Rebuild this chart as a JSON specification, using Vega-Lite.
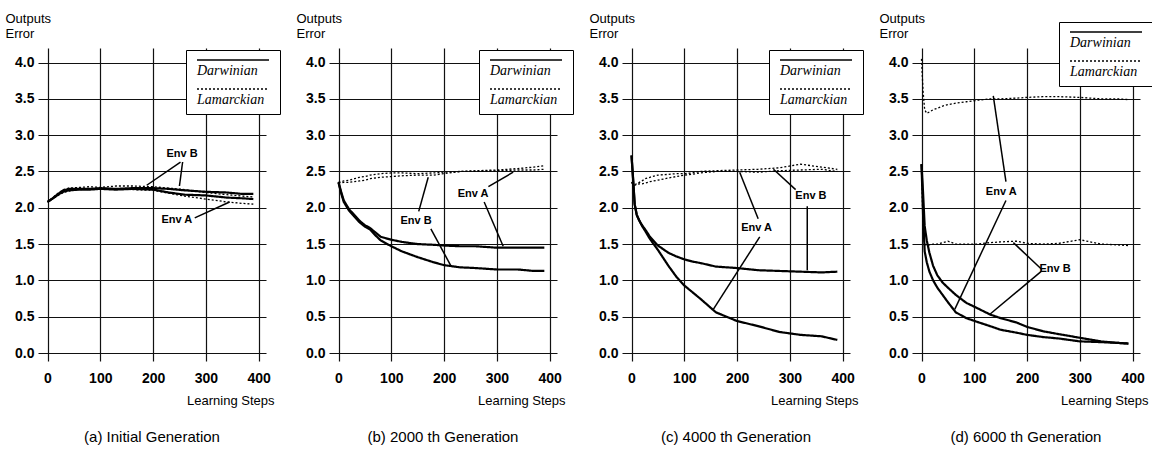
{
  "$schema": "https://vega.github.io/schema/vega-lite/v6.json",
  "background": "white",
  "padding": {"left": 5, "top": 12, "right": 5, "bottom": 0},
  "autosize": {"type": "pad"},
  "spacing": 15,
  "resolve": {"legend": {"strokeDash": "independent"}},
  "config": {
    "view": {"stroke": null},
    "axis": {
      "grid": true, "gridColor": "#111", "gridWidth": 1.2, "domain": false, "ticks": false,
      "labelFont": "Liberation Sans Narrow, Liberation Sans", "labelFontSize": 14, "labelFontWeight": "bold", "labelColor": "#000",
      "titleFont": "Liberation Sans Narrow, Liberation Sans", "titleFontSize": 13, "titleFontWeight": "normal", "titleColor": "#000"
    },
    "title": {"font": "Liberation Sans", "fontSize": 15, "fontWeight": "normal", "color": "#000", "orient": "bottom", "offset": 23},
    "legend": {
      "orient": "none", "title": null, "symbolType": "M-12,-1.33H12", "symbolSize": 36, "symbolOffset": 33, "symbolStrokeWidth": 1.6,
      "symbolStrokeColor": "black", "labelOffset": -43, "labelBaseline": "top", "labelFont": "Liberation Serif",
      "labelFontStyle": "italic", "labelFontSize": 14, "labelColor": "#000", "strokeColor": "black", "fillColor": "white",
      "padding": 7, "rowPadding": 7
    }
  },
  "datasets": {
    "curves": [
      {"panel":"a","method":"Darwinian","step":0,"envA":2.08,"envB":2.08},
      {"panel":"a","method":"Darwinian","step":10,"envA":2.13,"envB":2.13},
      {"panel":"a","method":"Darwinian","step":20,"envA":2.18,"envB":2.19},
      {"panel":"a","method":"Darwinian","step":30,"envA":2.22,"envB":2.24},
      {"panel":"a","method":"Darwinian","step":40,"envA":2.24,"envB":2.26},
      {"panel":"a","method":"Darwinian","step":60,"envA":2.25,"envB":2.26},
      {"panel":"a","method":"Darwinian","step":80,"envA":2.25,"envB":2.26},
      {"panel":"a","method":"Darwinian","step":100,"envA":2.26,"envB":2.27},
      {"panel":"a","method":"Darwinian","step":130,"envA":2.25,"envB":2.26},
      {"panel":"a","method":"Darwinian","step":160,"envA":2.26,"envB":2.27},
      {"panel":"a","method":"Darwinian","step":200,"envA":2.25,"envB":2.27},
      {"panel":"a","method":"Darwinian","step":230,"envA":2.21,"envB":2.26},
      {"panel":"a","method":"Darwinian","step":260,"envA":2.18,"envB":2.24},
      {"panel":"a","method":"Darwinian","step":300,"envA":2.17,"envB":2.22},
      {"panel":"a","method":"Darwinian","step":340,"envA":2.14,"envB":2.21},
      {"panel":"a","method":"Darwinian","step":370,"envA":2.13,"envB":2.19},
      {"panel":"a","method":"Darwinian","step":390,"envA":2.12,"envB":2.19},
      {"panel":"a","method":"Lamarckian","step":0,"envA":2.08,"envB":2.08},
      {"panel":"a","method":"Lamarckian","step":10,"envA":2.12,"envB":2.14},
      {"panel":"a","method":"Lamarckian","step":20,"envA":2.17,"envB":2.2},
      {"panel":"a","method":"Lamarckian","step":30,"envA":2.21,"envB":2.25},
      {"panel":"a","method":"Lamarckian","step":40,"envA":2.23,"envB":2.27},
      {"panel":"a","method":"Lamarckian","step":60,"envA":2.25,"envB":2.28},
      {"panel":"a","method":"Lamarckian","step":80,"envA":2.26,"envB":2.29},
      {"panel":"a","method":"Lamarckian","step":100,"envA":2.27,"envB":2.28},
      {"panel":"a","method":"Lamarckian","step":130,"envA":2.26,"envB":2.3},
      {"panel":"a","method":"Lamarckian","step":160,"envA":2.25,"envB":2.3},
      {"panel":"a","method":"Lamarckian","step":200,"envA":2.24,"envB":2.29},
      {"panel":"a","method":"Lamarckian","step":230,"envA":2.2,"envB":2.27},
      {"panel":"a","method":"Lamarckian","step":260,"envA":2.16,"envB":2.25},
      {"panel":"a","method":"Lamarckian","step":300,"envA":2.12,"envB":2.21},
      {"panel":"a","method":"Lamarckian","step":340,"envA":2.08,"envB":2.18},
      {"panel":"a","method":"Lamarckian","step":370,"envA":2.06,"envB":2.16},
      {"panel":"a","method":"Lamarckian","step":390,"envA":2.05,"envB":2.15},

      {"panel":"b","method":"Darwinian","step":0,"envA":2.35,"envB":2.35},
      {"panel":"b","method":"Darwinian","step":5,"envA":2.22,"envB":2.2},
      {"panel":"b","method":"Darwinian","step":10,"envA":2.1,"envB":2.08},
      {"panel":"b","method":"Darwinian","step":20,"envA":1.98,"envB":1.96},
      {"panel":"b","method":"Darwinian","step":30,"envA":1.9,"envB":1.88},
      {"panel":"b","method":"Darwinian","step":40,"envA":1.82,"envB":1.8},
      {"panel":"b","method":"Darwinian","step":50,"envA":1.76,"envB":1.74},
      {"panel":"b","method":"Darwinian","step":60,"envA":1.72,"envB":1.7},
      {"panel":"b","method":"Darwinian","step":70,"envA":1.66,"envB":1.62},
      {"panel":"b","method":"Darwinian","step":80,"envA":1.6,"envB":1.55},
      {"panel":"b","method":"Darwinian","step":100,"envA":1.56,"envB":1.47},
      {"panel":"b","method":"Darwinian","step":120,"envA":1.53,"envB":1.4},
      {"panel":"b","method":"Darwinian","step":150,"envA":1.5,"envB":1.32},
      {"panel":"b","method":"Darwinian","step":180,"envA":1.49,"envB":1.25},
      {"panel":"b","method":"Darwinian","step":200,"envA":1.48,"envB":1.21},
      {"panel":"b","method":"Darwinian","step":230,"envA":1.47,"envB":1.18},
      {"panel":"b","method":"Darwinian","step":260,"envA":1.47,"envB":1.17},
      {"panel":"b","method":"Darwinian","step":300,"envA":1.45,"envB":1.15},
      {"panel":"b","method":"Darwinian","step":340,"envA":1.45,"envB":1.15},
      {"panel":"b","method":"Darwinian","step":370,"envA":1.45,"envB":1.13},
      {"panel":"b","method":"Darwinian","step":390,"envA":1.45,"envB":1.13},
      {"panel":"b","method":"Lamarckian","step":0,"envA":2.35,"envB":2.35},
      {"panel":"b","method":"Lamarckian","step":5,"envA":2.36,"envB":2.34},
      {"panel":"b","method":"Lamarckian","step":10,"envA":2.37,"envB":2.35},
      {"panel":"b","method":"Lamarckian","step":20,"envA":2.38,"envB":2.35},
      {"panel":"b","method":"Lamarckian","step":30,"envA":2.4,"envB":2.36},
      {"panel":"b","method":"Lamarckian","step":40,"envA":2.42,"envB":2.37},
      {"panel":"b","method":"Lamarckian","step":50,"envA":2.43,"envB":2.38},
      {"panel":"b","method":"Lamarckian","step":60,"envA":2.45,"envB":2.4},
      {"panel":"b","method":"Lamarckian","step":70,"envA":2.46,"envB":2.41},
      {"panel":"b","method":"Lamarckian","step":80,"envA":2.47,"envB":2.42},
      {"panel":"b","method":"Lamarckian","step":100,"envA":2.48,"envB":2.43},
      {"panel":"b","method":"Lamarckian","step":120,"envA":2.48,"envB":2.44},
      {"panel":"b","method":"Lamarckian","step":150,"envA":2.47,"envB":2.45},
      {"panel":"b","method":"Lamarckian","step":180,"envA":2.48,"envB":2.45},
      {"panel":"b","method":"Lamarckian","step":200,"envA":2.49,"envB":2.47},
      {"panel":"b","method":"Lamarckian","step":230,"envA":2.5,"envB":2.5},
      {"panel":"b","method":"Lamarckian","step":260,"envA":2.51,"envB":2.5},
      {"panel":"b","method":"Lamarckian","step":300,"envA":2.52,"envB":2.51},
      {"panel":"b","method":"Lamarckian","step":340,"envA":2.54,"envB":2.52},
      {"panel":"b","method":"Lamarckian","step":370,"envA":2.56,"envB":2.52},
      {"panel":"b","method":"Lamarckian","step":390,"envA":2.58,"envB":2.53},

      {"panel":"c","method":"Darwinian","step":0,"envA":2.72,"envB":2.72},
      {"panel":"c","method":"Darwinian","step":3,"envA":2.4,"envB":2.4},
      {"panel":"c","method":"Darwinian","step":6,"envA":2.05,"envB":2.05},
      {"panel":"c","method":"Darwinian","step":10,"envA":1.9,"envB":1.9},
      {"panel":"c","method":"Darwinian","step":15,"envA":1.82,"envB":1.82},
      {"panel":"c","method":"Darwinian","step":20,"envA":1.75,"envB":1.76},
      {"panel":"c","method":"Darwinian","step":26,"envA":1.68,"envB":1.7},
      {"panel":"c","method":"Darwinian","step":35,"envA":1.57,"envB":1.6},
      {"panel":"c","method":"Darwinian","step":50,"envA":1.42,"envB":1.48},
      {"panel":"c","method":"Darwinian","step":70,"envA":1.2,"envB":1.38},
      {"panel":"c","method":"Darwinian","step":85,"envA":1.05,"envB":1.33},
      {"panel":"c","method":"Darwinian","step":100,"envA":0.93,"envB":1.29},
      {"panel":"c","method":"Darwinian","step":115,"envA":0.84,"envB":1.26},
      {"panel":"c","method":"Darwinian","step":130,"envA":0.75,"envB":1.24},
      {"panel":"c","method":"Darwinian","step":160,"envA":0.56,"envB":1.19},
      {"panel":"c","method":"Darwinian","step":200,"envA":0.44,"envB":1.17},
      {"panel":"c","method":"Darwinian","step":240,"envA":0.37,"envB":1.14},
      {"panel":"c","method":"Darwinian","step":280,"envA":0.29,"envB":1.13},
      {"panel":"c","method":"Darwinian","step":320,"envA":0.25,"envB":1.12},
      {"panel":"c","method":"Darwinian","step":360,"envA":0.23,"envB":1.11},
      {"panel":"c","method":"Darwinian","step":390,"envA":0.18,"envB":1.12},
      {"panel":"c","method":"Lamarckian","step":0,"envA":2.35,"envB":2.35},
      {"panel":"c","method":"Lamarckian","step":3,"envA":2.33,"envB":2.32},
      {"panel":"c","method":"Lamarckian","step":6,"envA":2.32,"envB":2.31},
      {"panel":"c","method":"Lamarckian","step":10,"envA":2.33,"envB":2.32},
      {"panel":"c","method":"Lamarckian","step":15,"envA":2.35,"envB":2.33},
      {"panel":"c","method":"Lamarckian","step":20,"envA":2.37,"envB":2.33},
      {"panel":"c","method":"Lamarckian","step":26,"envA":2.4,"envB":2.34},
      {"panel":"c","method":"Lamarckian","step":35,"envA":2.42,"envB":2.36},
      {"panel":"c","method":"Lamarckian","step":50,"envA":2.45,"envB":2.38},
      {"panel":"c","method":"Lamarckian","step":70,"envA":2.46,"envB":2.41},
      {"panel":"c","method":"Lamarckian","step":85,"envA":2.47,"envB":2.43},
      {"panel":"c","method":"Lamarckian","step":100,"envA":2.47,"envB":2.45},
      {"panel":"c","method":"Lamarckian","step":115,"envA":2.48,"envB":2.46},
      {"panel":"c","method":"Lamarckian","step":130,"envA":2.5,"envB":2.48},
      {"panel":"c","method":"Lamarckian","step":160,"envA":2.51,"envB":2.5},
      {"panel":"c","method":"Lamarckian","step":200,"envA":2.52,"envB":2.5},
      {"panel":"c","method":"Lamarckian","step":240,"envA":2.53,"envB":2.49},
      {"panel":"c","method":"Lamarckian","step":280,"envA":2.55,"envB":2.51},
      {"panel":"c","method":"Lamarckian","step":320,"envA":2.6,"envB":2.52},
      {"panel":"c","method":"Lamarckian","step":360,"envA":2.56,"envB":2.53},
      {"panel":"c","method":"Lamarckian","step":390,"envA":2.53,"envB":2.5},

      {"panel":"d","method":"Darwinian","step":0,"envA":2.6,"envB":2.6},
      {"panel":"d","method":"Darwinian","step":3,"envA":1.9,"envB":2.2},
      {"panel":"d","method":"Darwinian","step":6,"envA":1.4,"envB":1.75},
      {"panel":"d","method":"Darwinian","step":10,"envA":1.25,"envB":1.55},
      {"panel":"d","method":"Darwinian","step":15,"envA":1.12,"envB":1.38},
      {"panel":"d","method":"Darwinian","step":22,"envA":1.0,"envB":1.2},
      {"panel":"d","method":"Darwinian","step":30,"envA":0.9,"envB":1.07},
      {"panel":"d","method":"Darwinian","step":40,"envA":0.8,"envB":0.97},
      {"panel":"d","method":"Darwinian","step":50,"envA":0.7,"envB":0.9},
      {"panel":"d","method":"Darwinian","step":65,"envA":0.56,"envB":0.8},
      {"panel":"d","method":"Darwinian","step":85,"envA":0.48,"envB":0.69},
      {"panel":"d","method":"Darwinian","step":105,"envA":0.43,"envB":0.62},
      {"panel":"d","method":"Darwinian","step":130,"envA":0.37,"envB":0.53},
      {"panel":"d","method":"Darwinian","step":150,"envA":0.32,"envB":0.48},
      {"panel":"d","method":"Darwinian","step":180,"envA":0.28,"envB":0.42},
      {"panel":"d","method":"Darwinian","step":200,"envA":0.25,"envB":0.36},
      {"panel":"d","method":"Darwinian","step":230,"envA":0.22,"envB":0.3},
      {"panel":"d","method":"Darwinian","step":260,"envA":0.2,"envB":0.26},
      {"panel":"d","method":"Darwinian","step":300,"envA":0.16,"envB":0.21},
      {"panel":"d","method":"Darwinian","step":340,"envA":0.15,"envB":0.16},
      {"panel":"d","method":"Darwinian","step":370,"envA":0.14,"envB":0.14},
      {"panel":"d","method":"Darwinian","step":392,"envA":0.13,"envB":0.13},
      {"panel":"d","method":"Lamarckian","step":0,"envA":4.05,"envB":2.6},
      {"panel":"d","method":"Lamarckian","step":3,"envA":3.6,"envB":1.7},
      {"panel":"d","method":"Lamarckian","step":6,"envA":3.35,"envB":1.5},
      {"panel":"d","method":"Lamarckian","step":10,"envA":3.3,"envB":1.48},
      {"panel":"d","method":"Lamarckian","step":15,"envA":3.32,"envB":1.49},
      {"panel":"d","method":"Lamarckian","step":22,"envA":3.35,"envB":1.5},
      {"panel":"d","method":"Lamarckian","step":30,"envA":3.37,"envB":1.5},
      {"panel":"d","method":"Lamarckian","step":40,"envA":3.4,"envB":1.52},
      {"panel":"d","method":"Lamarckian","step":50,"envA":3.42,"envB":1.54},
      {"panel":"d","method":"Lamarckian","step":65,"envA":3.44,"envB":1.5},
      {"panel":"d","method":"Lamarckian","step":85,"envA":3.46,"envB":1.5},
      {"panel":"d","method":"Lamarckian","step":105,"envA":3.48,"envB":1.5},
      {"panel":"d","method":"Lamarckian","step":130,"envA":3.5,"envB":1.52},
      {"panel":"d","method":"Lamarckian","step":150,"envA":3.5,"envB":1.53},
      {"panel":"d","method":"Lamarckian","step":180,"envA":3.51,"envB":1.54},
      {"panel":"d","method":"Lamarckian","step":200,"envA":3.52,"envB":1.51},
      {"panel":"d","method":"Lamarckian","step":230,"envA":3.53,"envB":1.5},
      {"panel":"d","method":"Lamarckian","step":260,"envA":3.53,"envB":1.51},
      {"panel":"d","method":"Lamarckian","step":300,"envA":3.52,"envB":1.56},
      {"panel":"d","method":"Lamarckian","step":340,"envA":3.5,"envB":1.5},
      {"panel":"d","method":"Lamarckian","step":370,"envA":3.5,"envB":1.49},
      {"panel":"d","method":"Lamarckian","step":392,"envA":3.49,"envB":1.48}
    ],
    "labels": [
      {"panel":"a","label":"Env B","step":255,"error":2.74},
      {"panel":"a","label":"Env A","step":245,"error":1.83},
      {"panel":"b","label":"Env B","step":147,"error":1.82},
      {"panel":"b","label":"Env A","step":255,"error":2.19},
      {"panel":"c","label":"Env A","step":237,"error":1.72},
      {"panel":"c","label":"Env B","step":340,"error":2.16},
      {"panel":"d","label":"Env A","step":151,"error":2.22},
      {"panel":"d","label":"Env B","step":253,"error":1.15}
    ],
    "arrows": [
      {"panel":"a","step":252,"error":2.63,"step2":188,"error2":2.31},
      {"panel":"a","step":256,"error":2.63,"step2":250,"error2":2.3},
      {"panel":"a","step":279,"error":1.86,"step2":345,"error2":2.08},
      {"panel":"b","step":152,"error":1.95,"step2":170,"error2":2.42},
      {"panel":"b","step":175,"error":1.71,"step2":213,"error2":1.2},
      {"panel":"b","step":284,"error":2.29,"step2":331,"error2":2.49},
      {"panel":"b","step":276,"error":2.08,"step2":312,"error2":1.47},
      {"panel":"c","step":240,"error":1.85,"step2":205,"error2":2.49},
      {"panel":"c","step":243,"error":1.6,"step2":155,"error2":0.6},
      {"panel":"c","step":311,"error":2.25,"step2":269,"error2":2.53},
      {"panel":"c","step":333,"error":2.02,"step2":333,"error2":1.14},
      {"panel":"d","step":160,"error":2.36,"step2":136,"error2":3.54},
      {"panel":"d","step":160,"error":2.1,"step2":63,"error2":0.6},
      {"panel":"d","step":228,"error":1.15,"step2":174,"error2":1.52},
      {"panel":"d","step":228,"error":1.13,"step2":129,"error2":0.53}
    ]
  },
  "hconcat": [
    {
      "width": 228, "height": 313,
      "title": {"text": "(a) Initial Generation"},
      "encoding": {
        "x": {"field": "step", "type": "quantitative", "scale": {"domain": [-18, 414], "nice": false, "zero": false},
              "axis": {"values": [0, 100, 200, 300, 400], "labelPadding": 10, "title": "Learning Steps", "titleX": 236, "titleY": 33, "titleAlign": "right", "titleBaseline": "top", "titleAnchor": null}},
        "y": {"field": "error", "type": "quantitative", "scale": {"domain": [-0.11, 4.2], "nice": false, "zero": false},
              "axis": {"values": [0, 0.5, 1, 1.5, 2, 2.5, 3, 3.5, 4], "format": ".1f", "labelPadding": 4, "labelOverlap": false, "title": ["Outputs", "Error"], "titleAngle": 0, "titleAlign": "left", "titleBaseline": "top", "titleX": -33, "titleY": -36, "titleLineHeight": 15, "titleAnchor": null}}
      },
      "layer": [
        {
          "data": {"name": "curves"},
          "transform": [{"filter": "datum.panel === 'a'"}, {"fold": ["envA", "envB"], "as": ["env", "error"]}],
          "mark": {"type": "line", "color": "black"},
          "encoding": {
            "strokeDash": {"field": "method", "type": "nominal", "scale": {"domain": ["Darwinian", "Lamarckian"], "range": [[1, 0], [2, 2]]},
                           "legend": {"legendX": 148, "legendY": 2}},
            "strokeWidth": {"field": "method", "type": "nominal", "scale": {"domain": ["Darwinian", "Lamarckian"], "range": [2.2, 1.3]}, "legend": null},
            "detail": {"field": "env"},
            "order": {"field": "step", "type": "quantitative"}
          }
        },
        {
          "data": {"name": "arrows"},
          "transform": [{"filter": "datum.panel === 'a'"}],
          "mark": {"type": "rule", "color": "black", "strokeWidth": 1.5},
          "encoding": {"x2": {"field": "step2"}, "y2": {"field": "error2"}}
        },
        {
          "data": {"name": "labels"},
          "transform": [{"filter": "datum.panel === 'a'"}],
          "mark": {"type": "text", "font": "Liberation Sans Narrow, Liberation Sans", "fontSize": 11, "fontWeight": "bold", "color": "black"},
          "encoding": {"text": {"field": "label"}}
        }
      ]
    },
    {
      "width": 228, "height": 313,
      "title": {"text": "(b) 2000 th Generation"},
      "encoding": {
        "x": {"field": "step", "type": "quantitative", "scale": {"domain": [-18, 414], "nice": false, "zero": false},
              "axis": {"values": [0, 100, 200, 300, 400], "labelPadding": 10, "title": "Learning Steps", "titleX": 236, "titleY": 33, "titleAlign": "right", "titleBaseline": "top", "titleAnchor": null}},
        "y": {"field": "error", "type": "quantitative", "scale": {"domain": [-0.11, 4.2], "nice": false, "zero": false},
              "axis": {"values": [0, 0.5, 1, 1.5, 2, 2.5, 3, 3.5, 4], "format": ".1f", "labelPadding": 4, "labelOverlap": false, "title": ["Outputs", "Error"], "titleAngle": 0, "titleAlign": "left", "titleBaseline": "top", "titleX": -33, "titleY": -36, "titleLineHeight": 15, "titleAnchor": null}}
      },
      "layer": [
        {
          "data": {"name": "curves"},
          "transform": [{"filter": "datum.panel === 'b'"}, {"fold": ["envA", "envB"], "as": ["env", "error"]}],
          "mark": {"type": "line", "color": "black"},
          "encoding": {
            "strokeDash": {"field": "method", "type": "nominal", "scale": {"domain": ["Darwinian", "Lamarckian"], "range": [[1, 0], [2, 2]]},
                           "legend": {"legendX": 150, "legendY": 2}},
            "strokeWidth": {"field": "method", "type": "nominal", "scale": {"domain": ["Darwinian", "Lamarckian"], "range": [2.2, 1.3]}, "legend": null},
            "detail": {"field": "env"},
            "order": {"field": "step", "type": "quantitative"}
          }
        },
        {
          "data": {"name": "arrows"},
          "transform": [{"filter": "datum.panel === 'b'"}],
          "mark": {"type": "rule", "color": "black", "strokeWidth": 1.5},
          "encoding": {"x2": {"field": "step2"}, "y2": {"field": "error2"}}
        },
        {
          "data": {"name": "labels"},
          "transform": [{"filter": "datum.panel === 'b'"}],
          "mark": {"type": "text", "font": "Liberation Sans Narrow, Liberation Sans", "fontSize": 11, "fontWeight": "bold", "color": "black"},
          "encoding": {"text": {"field": "label"}}
        }
      ]
    },
    {
      "width": 228, "height": 313,
      "title": {"text": "(c) 4000 th Generation"},
      "encoding": {
        "x": {"field": "step", "type": "quantitative", "scale": {"domain": [-18, 414], "nice": false, "zero": false},
              "axis": {"values": [0, 100, 200, 300, 400], "labelPadding": 10, "title": "Learning Steps", "titleX": 236, "titleY": 33, "titleAlign": "right", "titleBaseline": "top", "titleAnchor": null}},
        "y": {"field": "error", "type": "quantitative", "scale": {"domain": [-0.11, 4.2], "nice": false, "zero": false},
              "axis": {"values": [0, 0.5, 1, 1.5, 2, 2.5, 3, 3.5, 4], "format": ".1f", "labelPadding": 4, "labelOverlap": false, "title": ["Outputs", "Error"], "titleAngle": 0, "titleAlign": "left", "titleBaseline": "top", "titleX": -33, "titleY": -36, "titleLineHeight": 15, "titleAnchor": null}}
      },
      "layer": [
        {
          "data": {"name": "curves"},
          "transform": [{"filter": "datum.panel === 'c'"}, {"fold": ["envA", "envB"], "as": ["env", "error"]}],
          "mark": {"type": "line", "color": "black"},
          "encoding": {
            "strokeDash": {"field": "method", "type": "nominal", "scale": {"domain": ["Darwinian", "Lamarckian"], "range": [[1, 0], [2, 2]]},
                           "legend": {"legendX": 147, "legendY": 2}},
            "strokeWidth": {"field": "method", "type": "nominal", "scale": {"domain": ["Darwinian", "Lamarckian"], "range": [2.2, 1.3]}, "legend": null},
            "detail": {"field": "env"},
            "order": {"field": "step", "type": "quantitative"}
          }
        },
        {
          "data": {"name": "arrows"},
          "transform": [{"filter": "datum.panel === 'c'"}],
          "mark": {"type": "rule", "color": "black", "strokeWidth": 1.5},
          "encoding": {"x2": {"field": "step2"}, "y2": {"field": "error2"}}
        },
        {
          "data": {"name": "labels"},
          "transform": [{"filter": "datum.panel === 'c'"}],
          "mark": {"type": "text", "font": "Liberation Sans Narrow, Liberation Sans", "fontSize": 11, "fontWeight": "bold", "color": "black"},
          "encoding": {"text": {"field": "label"}}
        }
      ]
    },
    {
      "width": 228, "height": 313,
      "title": {"text": "(d) 6000 th Generation"},
      "encoding": {
        "x": {"field": "step", "type": "quantitative", "scale": {"domain": [-18, 414], "nice": false, "zero": false},
              "axis": {"values": [0, 100, 200, 300, 400], "labelPadding": 10, "title": "Learning Steps", "titleX": 236, "titleY": 33, "titleAlign": "right", "titleBaseline": "top", "titleAnchor": null}},
        "y": {"field": "error", "type": "quantitative", "scale": {"domain": [-0.11, 4.2], "nice": false, "zero": false},
              "axis": {"values": [0, 0.5, 1, 1.5, 2, 2.5, 3, 3.5, 4], "format": ".1f", "labelPadding": 4, "labelOverlap": false, "title": ["Outputs", "Error"], "titleAngle": 0, "titleAlign": "left", "titleBaseline": "top", "titleX": -33, "titleY": -36, "titleLineHeight": 15, "titleAnchor": null}}
      },
      "layer": [
        {
          "data": {"name": "curves"},
          "transform": [{"filter": "datum.panel === 'd'"}, {"fold": ["envA", "envB"], "as": ["env", "error"]}],
          "mark": {"type": "line", "color": "black"},
          "encoding": {
            "strokeDash": {"field": "method", "type": "nominal", "scale": {"domain": ["Darwinian", "Lamarckian"], "range": [[1, 0], [2, 2]]},
                           "legend": {"legendX": 147, "legendY": -26}},
            "strokeWidth": {"field": "method", "type": "nominal", "scale": {"domain": ["Darwinian", "Lamarckian"], "range": [2.2, 1.3]}, "legend": null},
            "detail": {"field": "env"},
            "order": {"field": "step", "type": "quantitative"}
          }
        },
        {
          "data": {"name": "arrows"},
          "transform": [{"filter": "datum.panel === 'd'"}],
          "mark": {"type": "rule", "color": "black", "strokeWidth": 1.5},
          "encoding": {"x2": {"field": "step2"}, "y2": {"field": "error2"}}
        },
        {
          "data": {"name": "labels"},
          "transform": [{"filter": "datum.panel === 'd'"}],
          "mark": {"type": "text", "font": "Liberation Sans Narrow, Liberation Sans", "fontSize": 11, "fontWeight": "bold", "color": "black"},
          "encoding": {"text": {"field": "label"}}
        }
      ]
    }
  ]
}
